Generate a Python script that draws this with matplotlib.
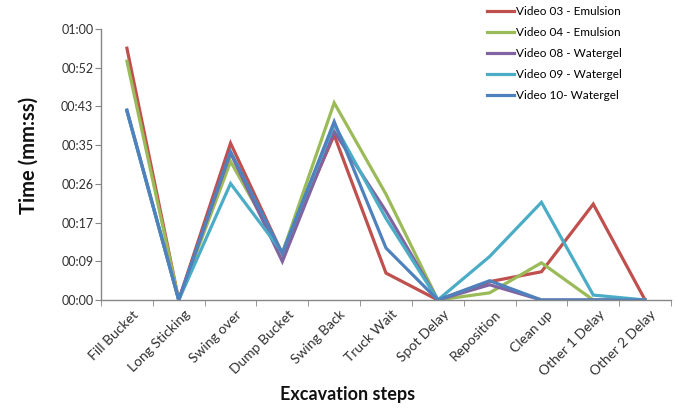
import matplotlib
matplotlib.use("Agg")
import matplotlib.pyplot as plt
from matplotlib.ticker import FixedLocator, FuncFormatter
from matplotlib.transforms import ScaledTranslation

plt.rcParams['font.family'] = ['Lato', 'DejaVu Sans']

steps = ["Fill Bucket", "Long Sticking", "Swing over", "Dump Bucket", "Swing Back",
         "Truck Wait", "Spot Delay", "Reposition", "Clean up", "Other 1 Delay",
         "Other 2 Delay"]

# durations in seconds per excavation step
video03_emulsion = [56.2, 0.0, 35.0, 10.3, 36.8, 6.0, 0.0, 4.1, 6.3, 21.4, 0.0]
video04_emulsion = [53.3, 0.0, 30.9, 10.5, 44.0, 23.6, 0.0, 1.6, 8.3, 0.0, 0.0]
video08_watergel = [42.2, 0.0, 32.8, 8.6, 37.6, 19.8, 0.0, 3.4, 0.0, 0.0, 0.0]
video09_watergel = [42.2, 0.0, 26.0, 10.6, 39.2, 18.2, 0.0, 9.7, 21.8, 1.1, 0.0]
video10_watergel = [42.4, 0.0, 33.1, 10.4, 39.8, 11.6, 0.0, 4.3, 0.0, 0.0, 0.0]

series = [
    ("Video 03 - Emulsion", video03_emulsion, "#C0504D"),
    ("Video 04 - Emulsion", video04_emulsion, "#9BBB59"),
    ("Video 08 - Watergel", video08_watergel, "#8064A2"),
    ("Video 09 - Watergel", video09_watergel, "#4BACC6"),
    ("Video 10- Watergel", video10_watergel, "#4F81BD"),
]

# axis major unit of 0.0001 day (8.64 s)
tick_unit = 8.64
n_ticks = 8

fig = plt.figure(figsize=(6.77, 4.09), dpi=100)
ax = fig.add_axes([101 / 677, 109 / 409, 570 / 677, 271 / 409])

x = list(range(len(steps)))
handles = []
for label, vals, color in series:
    h, = ax.plot(x, vals, color=color, lw=2.3, label=label, solid_joinstyle='miter')
    handles.append(h)

ax.set_xlim(-0.5, len(steps) - 0.5)
ax.set_ylim(0, tick_unit * (n_ticks - 1))

yt = [k * tick_unit for k in range(n_ticks)]
ax.yaxis.set_major_locator(FixedLocator(yt))


def mmss(v, pos):
    s = int(round(v))
    return f"{s // 60:02d}:{s % 60:02d}"


ax.yaxis.set_major_formatter(FuncFormatter(mmss))

ax.set_xticks(x)
ax.set_xticklabels(steps, rotation=45, ha='right', rotation_mode='anchor')
ax.set_xticks([i - 0.5 for i in range(len(steps) + 1)], minor=True)
ax.tick_params(axis='x', which='major', length=0, pad=6, labelsize=10, labelcolor='#303030')
ax.tick_params(axis='x', which='minor', length=4, direction='out', color='#868686')
ax.tick_params(axis='y', length=4, direction='out', color='#868686', labelsize=9,
               labelcolor='#303030', pad=1.5)

# nudge rotated category labels slightly to the right
shift = ScaledTranslation(5 / 100, 0, fig.dpi_scale_trans)
for lbl in ax.get_xticklabels():
    lbl.set_transform(lbl.get_transform() + shift)

for side in ('top', 'right'):
    ax.spines[side].set_visible(False)
for side in ('left', 'bottom'):
    ax.spines[side].set_color('#868686')
    ax.spines[side].set_linewidth(1.0)

fig.text(0.042, 0.62, "Time (mm:ss)", rotation=90, ha='center', va='center',
         fontsize=14.5, fontweight='bold', color='#111111')
fig.text(0.513, 0.035, "Excavation steps", ha='center', va='center',
         fontsize=13, fontweight='bold', color='#111111')

fig.legend(handles=handles, loc='upper left', bbox_to_anchor=(482 / 677, 1 - 1 / 409),
           frameon=False, fontsize=8.5, handlelength=2.3, handletextpad=0.15,
           labelspacing=0.85, borderaxespad=0)

fig.savefig("out.png", dpi=100)
